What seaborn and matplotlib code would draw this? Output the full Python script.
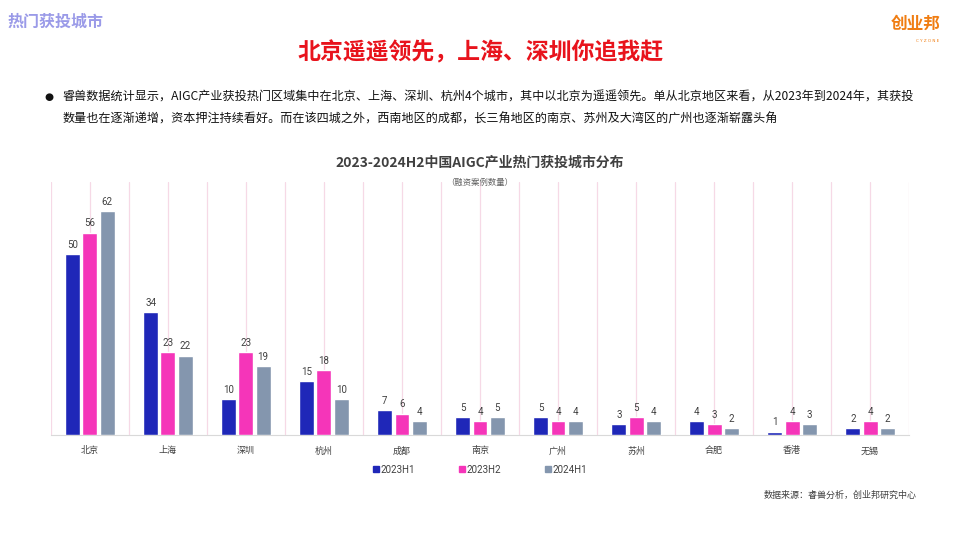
import matplotlib.pyplot as plt
import seaborn as sns
import pandas as pd
import numpy as np

# ===================== 数据 =====================
cities = ["北京", "上海", "深圳", "杭州", "成都", "南京", "广州", "苏州", "合肥", "香港", "无锡"]
periods = ["2023H1", "2023H2", "2024H1"]
v_2023h1 = [50, 34, 10, 15, 7, 5, 5, 3, 4, 1, 2]
v_2023h2 = [56, 23, 23, 18, 6, 4, 4, 5, 3, 4, 4]
v_2024h1 = [62, 22, 19, 10, 4, 5, 4, 4, 2, 3, 2]
colors = ["#1F27B8", "#F535B9", "#8496AE"]

df = pd.DataFrame({
    "city": cities * 3,
    "period": [p for p in periods for _ in cities],
    "value": v_2023h1 + v_2023h2 + v_2024h1,
})

# ===================== 画图 =====================
sns.set_style("white")
plt.rcParams['font.family'] = ['Noto Sans CJK SC', 'DejaVu Sans']
plt.rcParams['axes.unicode_minus'] = False

fig = plt.figure(figsize=(9.6, 5.4), dpi=100)
ax = fig.add_axes([0.053, 0.194, 0.894, 0.469])

# 竖向网格线（类别中心与边界）
for x in np.arange(-0.5, len(cities), 0.5):
    ax.axvline(x, color="#F6D9E6", lw=0.9, zorder=0)

sns.barplot(data=df, x="city", y="value", hue="period", palette=colors,
            saturation=1, width=0.66, gap=0.13, ax=ax, legend=False, zorder=3)

for cont in ax.containers:
    ax.bar_label(cont, padding=3, fontsize=7, color="#404040", family=['Roboto'])

ax.set_xlim(-0.5, len(cities) - 0.5)
ax.set_ylim(0, 70)
ax.set_xlabel("")
ax.set_ylabel("")
ax.set_yticks([])
ax.tick_params(axis="x", length=0, labelsize=6.5, labelcolor="#404040", pad=8)
for s in ["top", "right", "left"]:
    ax.spines[s].set_visible(False)
ax.spines["bottom"].set_color("#D9D9D9")

# 图例
handles = [plt.Rectangle((0, 0), 1, 1, color=c) for c in colors]
fig.legend(handles, periods, loc="center", bbox_to_anchor=(0.5, 0.13), ncol=3,
           frameon=False, prop={'family': 'Roboto', 'size': 7},
           handlelength=0.6, handleheight=0.6,
           handletextpad=0.2, columnspacing=4.5, labelcolor="#404040")

# ===================== 文本 =====================
fig.text(0.008, 0.975, "热门获投城市", fontsize=11.5, color="#9A9AE8",
         fontweight="bold", style="italic", va="top", ha="left")
fig.text(0.98, 0.955, "创业邦", fontsize=12, color="#F07D12",
         fontweight="bold", ha="right", va="center")
fig.text(0.978, 0.925, "C Y Z O N E", fontsize=3, color="#F07D12",
         ha="right", va="center", family=['DejaVu Sans'])
fig.text(0.5, 0.903, "北京遥遥领先，上海、深圳你追我赶", fontsize=16.5,
         color="#E8131C", fontweight="bold", ha="center", va="center")

fig.text(0.046, 0.82, "●", fontsize=7.5, color="#111111", va="center", family=['DejaVu Sans'])
fig.text(0.065, 0.82, "睿兽数据统计显示，AIGC产业获投热门区域集中在北京、上海、深圳、杭州4个城市，其中以北京为遥遥领先。单从北京地区来看，从2023年到2024年，其获投",
         fontsize=8.7, color="#111111", va="center")
fig.text(0.065, 0.78, "数量也在逐渐递增，资本押注持续看好。而在该四城之外，西南地区的成都，长三角地区的南京、苏州及大湾区的广州也逐渐崭露头角",
         fontsize=8.7, color="#111111", va="center")

fig.text(0.5, 0.698, "2023-2024H2中国AIGC产业热门获投城市分布", fontsize=10,
         color="#404040", fontweight="bold", ha="center", va="center")
fig.text(0.5, 0.662, "（融资案例数量）", fontsize=6, color="#606060",
         ha="center", va="center")

fig.text(0.955, 0.083, "数据来源：睿兽分析，创业邦研究中心", fontsize=6.5,
         color="#404040", ha="right", va="center")

fig.savefig("out.png", dpi=100)
